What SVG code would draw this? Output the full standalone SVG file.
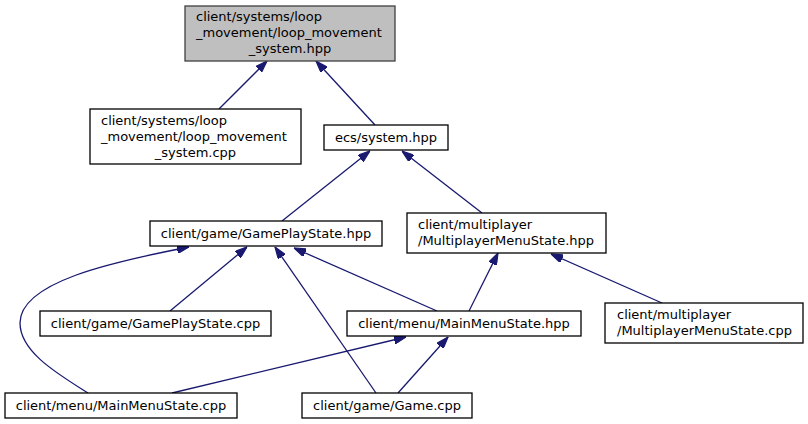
<svg xmlns="http://www.w3.org/2000/svg" width="808" height="424" viewBox="0 0 808 424">
<style>
.box{fill:#ffffff;stroke:#000000;stroke-width:1.3}
.cur{fill:#bfbfbf;stroke:#404040;stroke-width:1.3}
text{font-family:"DejaVu Sans",sans-serif;font-size:13px;fill:#000000}
.c{text-anchor:middle}
.e{fill:none;stroke:#191970;stroke-width:1.3;marker-end:url(#ah)}
</style>
<defs>
<marker id="ah" viewBox="0 0 10 7" refX="10" refY="3.5" markerWidth="12" markerHeight="8.5" markerUnits="userSpaceOnUse" orient="auto">
<path d="M0,0 L10,3.5 L0,7 z" fill="#191970" stroke="#191970"/>
</marker>
</defs>
<rect width="808" height="424" fill="#ffffff"/>
<g id="edges">
<path class="e" d="M219,109 L267,61"/>
<path class="e" d="M375,125 L316,61"/>
<path class="e" d="M282,221 L370,151"/>
<path class="e" d="M482,213 L402,151"/>
<path class="e" d="M170,311 L247,247"/>
<path class="e" d="M437,311 L294,248"/>
<path class="e" d="M469,311 L498,253"/>
<path class="e" d="M662,303 L551,254"/>
<path class="e" d="M88,393 C58,374 20,352 20,323 C20,282 112,262 189,247"/>
<path class="e" d="M376,393 L275,247"/>
<path class="e" d="M172,393 L406,337"/>
<path class="e" d="M398,393 L448,337"/>
</g>
<g id="n_loop_hpp">
<rect class="cur" x="185" y="6" width="210" height="55"/>
<text x="196" y="21">client/systems/loop</text>
<text x="196" y="37">_movement/loop_movement</text>
<text x="290" y="53" class="c">_system.hpp</text>
</g>
<g id="n_loop_cpp">
<rect class="box" x="90" y="109" width="211" height="55"/>
<text x="101" y="125">client/systems/loop</text>
<text x="101" y="141">_movement/loop_movement</text>
<text x="195.5" y="157" class="c">_system.cpp</text>
</g>
<g id="n_ecs_system">
<rect class="box" x="324" y="125" width="124" height="25"/>
<text x="386" y="142" class="c">ecs/system.hpp</text>
</g>
<g id="n_gps_hpp">
<rect class="box" x="150" y="221" width="232" height="25"/>
<text x="266" y="238" class="c">client/game/GamePlayState.hpp</text>
</g>
<g id="n_mms_hpp">
<rect class="box" x="407" y="213" width="199" height="40"/>
<text x="418" y="229">client/multiplayer</text>
<text x="418" y="245">/MultiplayerMenuState.hpp</text>
</g>
<g id="n_gps_cpp">
<rect class="box" x="40" y="311" width="231" height="25"/>
<text x="155.5" y="328" class="c">client/game/GamePlayState.cpp</text>
</g>
<g id="n_mainmenu_hpp">
<rect class="box" x="347" y="311" width="234" height="25"/>
<text x="464" y="328" class="c">client/menu/MainMenuState.hpp</text>
</g>
<g id="n_mms_cpp">
<rect class="box" x="605" y="303" width="198" height="40"/>
<text x="617" y="319">client/multiplayer</text>
<text x="617" y="335">/MultiplayerMenuState.cpp</text>
</g>
<g id="n_mainmenu_cpp">
<rect class="box" x="5" y="393" width="232" height="25"/>
<text x="121" y="410" class="c">client/menu/MainMenuState.cpp</text>
</g>
<g id="n_game_cpp">
<rect class="box" x="302" y="393" width="170" height="25"/>
<text x="387" y="410" class="c">client/game/Game.cpp</text>
</g>
</svg>
